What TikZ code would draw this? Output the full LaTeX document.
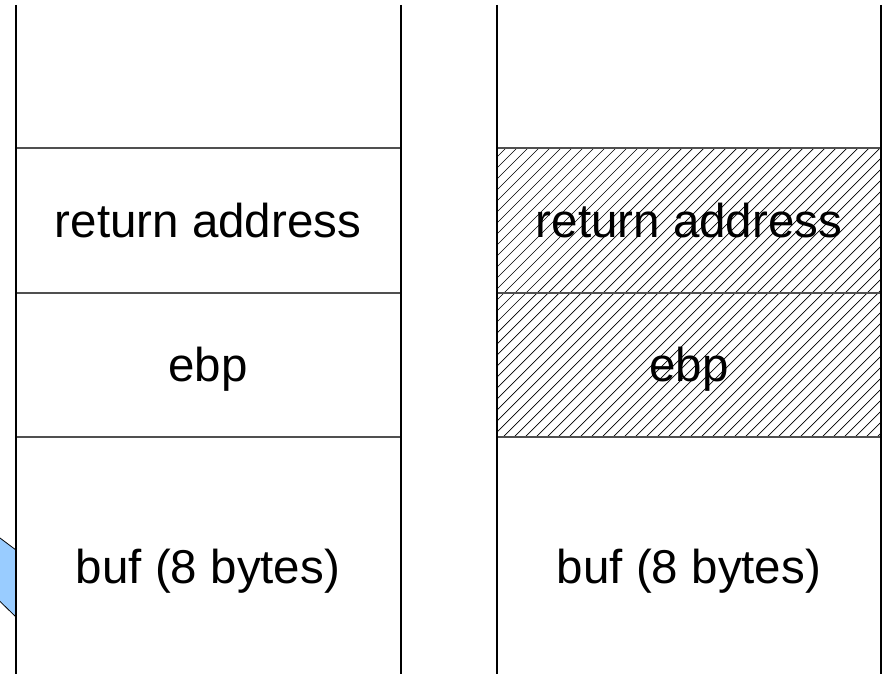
\documentclass[tikz,border=0pt]{standalone}
\usepackage{fontspec}
\setmainfont{Liberation Sans}
\definecolor{arrowblue}{RGB}{153,204,255}
\definecolor{sepgray}{RGB}{80,80,80}
\tikzset{
  wall/.style={line width=1.5pt, black},
  sep/.style={line width=2pt, sepgray},
  hatchline/.style={line width=0.7pt, black},
  lbl/.style={font=\fontsize{47.5}{52}\selectfont, inner sep=0pt, anchor=base},
  cutarrow/.style={fill=arrowblue, draw=black, line width=0.8pt}
}
\begin{document}
\begin{tikzpicture}[x=1pt,y=-1pt]
\useasboundingbox (0,0) rectangle (887,674);
% hatched area on the right stack
\begin{scope}
  \clip (497,148) rectangle (881,437);
  \foreach \i in {-300,-289,...,900}
    \draw[hatchline] (\i,437) -- ++(300,-300);
\end{scope}
% blue cut-off arrow at the left edge
\begin{scope}
  \clip (0,0) rectangle (16,674);
  \draw[cutarrow] (-20,523) -- (16,550) -- (16,617) -- (-20,582) -- cycle;
\end{scope}
% separators
\draw[sep] (16,148) -- (401,148);
\draw[sep] (16,293) -- (401,293);
\draw[sep] (16,437) -- (401,437);
\draw[sep] (497,148) -- (881,148);
\draw[sep] (497,293) -- (881,293);
\draw[sep] (497,437) -- (881,437);
% walls
\draw[wall] (16,5) -- (16,674);
\draw[wall] (401,5) -- (401,674);
\draw[wall] (497,5) -- (497,674);
\draw[wall] (881,5) -- (881,674);
% labels
\node[lbl] (ra1) at (208,237) {return address};
\node[lbl] (ebp1) at (208,381) {ebp};
\node[lbl] (buf1) at (208,583) {buf (8 bytes)};
\node[lbl] (ra2) at (689,237) {return address};
\node[lbl] (ebp2) at (689,381) {ebp};
\node[lbl] (buf2) at (689,583) {buf (8 bytes)};
\end{tikzpicture}
\end{document}
